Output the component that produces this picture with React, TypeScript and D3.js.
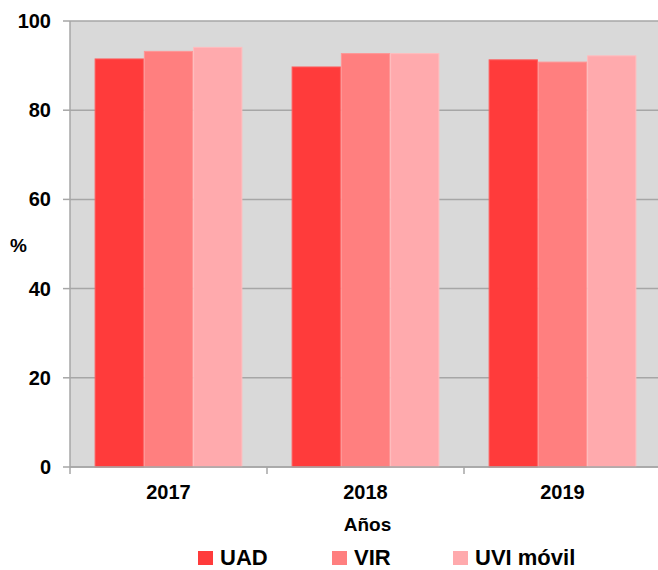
import * as d3 from 'd3';

// years on the x axis
const years = ['2017', '2018', '2019'];

// series names and their values (%), one array per series
const seriesNames = ['UAD', 'VIR', 'UVI móvil'];
const uad = [91.6, 89.8, 91.4];
const vir = [93.3, 92.8, 90.9];
const uviMovil = [94.2, 92.8, 92.3];

const yTicks = [0, 20, 40, 60, 80, 100];

const colors = ['#ff3b3b', '#ff7f7f', '#ffaaad'];
const edgeColors = ['#ff5a5a', '#ff9595', '#ffbcbe'];

export default function App() {
  const width = 658;
  const height = 570;
  const margin = { top: 21, right: -3, bottom: 103, left: 70 };
  const innerWidth = width - margin.left - margin.right;
  const innerHeight = height - margin.top - margin.bottom;

  const values = [uad, vir, uviMovil];

  const x0 = d3.scaleBand().domain(years).range([0, innerWidth]).paddingInner(0).paddingOuter(0);
  const bandPad = x0.bandwidth() * 0.125;
  const x1 = d3
    .scaleBand()
    .domain(seriesNames)
    .range([bandPad, x0.bandwidth() - bandPad])
    .padding(0);
  const y = d3.scaleLinear().domain([0, 100]).range([innerHeight, 0]);

  const font = 'Liberation Sans, Arial, sans-serif';
  const boundaries = [0, ...years.map((yr) => (x0(yr) ?? 0) + x0.bandwidth())];

  // legend layout (x of each square)
  const legendX = [198, 332, 453];

  return (
    <svg
      width={width}
      height={height}
      style={{ position: 'absolute', left: 0, top: 0, background: 'white' }}
      fontFamily={font}
    >
      <g transform={`translate(${margin.left}, ${margin.top})`}>
        <rect x={0} y={0} width={innerWidth} height={innerHeight} fill="#d9d9d9" />

        {/* gridlines */}
        {yTicks.map((t) => (
          <line
            key={`g-${t}`}
            x1={0}
            x2={innerWidth}
            y1={y(t)}
            y2={y(t)}
            stroke="#a6a6a6"
            strokeWidth={1.5}
          />
        ))}

        {/* y tick marks and labels */}
        {yTicks.map((t) => (
          <g key={`t-${t}`}>
            <line x1={-7} x2={0} y1={y(t)} y2={y(t)} stroke="#a6a6a6" strokeWidth={1.5} />
            <text
              x={-19}
              y={y(t)}
              dy="0.35em"
              textAnchor="end"
              fontSize={20}
              fontWeight="bold"
              fill="#000"
            >
              {t}
            </text>
          </g>
        ))}

        {/* bars */}
        {years.map((yr, i) => (
          <g key={yr} transform={`translate(${x0(yr)}, 0)`}>
            {seriesNames.map((s, j) => (
              <rect
                key={s}
                x={(x1(s) ?? 0) + 0.5}
                y={y(values[j][i]) + 0.5}
                width={x1.bandwidth() - 1}
                height={innerHeight - y(values[j][i]) - 0.5}
                fill={colors[j]}
                stroke={edgeColors[j]}
                strokeWidth={1}
              />
            ))}
          </g>
        ))}

        {/* axes lines */}
        <line x1={0} x2={0} y1={0} y2={innerHeight} stroke="#a6a6a6" strokeWidth={1.5} />
        <line
          x1={0}
          x2={innerWidth}
          y1={innerHeight}
          y2={innerHeight}
          stroke="#a6a6a6"
          strokeWidth={1.5}
        />
        {boundaries.map((b, i) => (
          <line
            key={`xb-${i}`}
            x1={b}
            x2={b}
            y1={innerHeight}
            y2={innerHeight + 7}
            stroke="#a6a6a6"
            strokeWidth={1.5}
          />
        ))}

        {/* x labels */}
        {years.map((yr) => (
          <text
            key={`xl-${yr}`}
            x={(x0(yr) ?? 0) + x0.bandwidth() / 2}
            y={innerHeight + 32}
            textAnchor="middle"
            fontSize={20}
            fontWeight="bold"
          >
            {yr}
          </text>
        ))}

        <text
          x={innerWidth / 2 + 2}
          y={innerHeight + 64}
          textAnchor="middle"
          fontSize={19}
          fontWeight="bold"
        >
          Años
        </text>
      </g>

      {/* y axis title */}
      <text x={10} y={252} fontSize={19} fontWeight="bold">
        %
      </text>

      {/* legend */}
      {seriesNames.map((s, j) => (
        <g key={`lg-${s}`} transform={`translate(${legendX[j]}, 551)`}>
          <rect x={0} y={0} width={15} height={14} fill={colors[j]} />
          <text x={22} y={14} fontSize={22} fontWeight="bold">
            {s}
          </text>
        </g>
      ))}
    </svg>
  );
}
